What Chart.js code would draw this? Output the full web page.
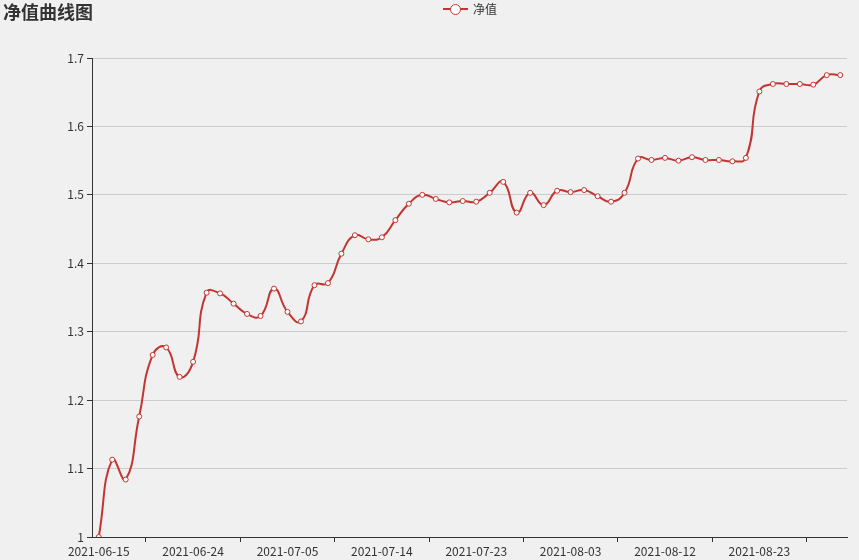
<!DOCTYPE html>
<html>
<head>
<meta charset="utf-8">
<title>净值曲线图</title>
<script src="https://cdn.jsdelivr.net/npm/chart.js@4"></script>
<style>
  html, body { margin: 0; padding: 0; background: #f0f0f0; }
  #wrap { position: relative; width: 859px; height: 560px; }
  #title {
    position: absolute; left: 3px; top: -2px;
    font: bold 18px "Noto Sans CJK SC", sans-serif; color: #333;
  }
  #legend {
    position: absolute; left: 443px; top: 0px; height: 17px;
    font: 12px "Noto Sans CJK SC", sans-serif; color: #333;
    display: flex; align-items: center;
  }
  #legend .icon { position: relative; width: 25px; height: 14px; margin-right: 5px; }
  #legend .icon .ln { position: absolute; left: 0; top: 6px; width: 25px; height: 2px; background: #c23531; }
  #legend .icon .dot {
    position: absolute; left: 7px; top: 2px; width: 9px; height: 9px; border-radius: 50%;
    background: #fff; border: 1px solid #c23531;
  }
  canvas { position: absolute; left: 0; top: 0; }
</style>
</head>
<body>
<div id="wrap">
  <canvas id="nav-chart" width="859" height="560"></canvas>
  <div id="title">净值曲线图</div>
  <div id="legend"><span class="icon"><span class="ln"></span><span class="dot"></span></span>净值</div>
</div>
<script>
// 交易日
const dates = [
  "2021-06-15", "2021-06-16", "2021-06-17", "2021-06-18", "2021-06-21", "2021-06-22", "2021-06-23",
  "2021-06-24", "2021-06-25", "2021-06-28", "2021-06-29", "2021-06-30", "2021-07-01", "2021-07-02",
  "2021-07-05", "2021-07-06", "2021-07-07", "2021-07-08", "2021-07-09", "2021-07-12", "2021-07-13",
  "2021-07-14", "2021-07-15", "2021-07-16", "2021-07-19", "2021-07-20", "2021-07-21", "2021-07-22",
  "2021-07-23", "2021-07-26", "2021-07-27", "2021-07-28", "2021-07-29", "2021-07-30", "2021-08-02",
  "2021-08-03", "2021-08-04", "2021-08-05", "2021-08-06", "2021-08-09", "2021-08-10", "2021-08-11",
  "2021-08-12", "2021-08-13", "2021-08-16", "2021-08-17", "2021-08-18", "2021-08-19", "2021-08-20",
  "2021-08-23", "2021-08-24", "2021-08-25", "2021-08-26", "2021-08-27", "2021-08-30", "2021-08-31"
];

// 净值
const navValues = [
  1.000, 1.113, 1.084, 1.176, 1.266, 1.277, 1.234, 1.256, 1.357, 1.356,
  1.341, 1.326, 1.323, 1.363, 1.329, 1.315, 1.368, 1.371, 1.414, 1.441,
  1.435, 1.438, 1.463, 1.487, 1.500, 1.494, 1.489, 1.491, 1.490, 1.503,
  1.519, 1.474, 1.503, 1.485, 1.506, 1.504, 1.507, 1.498, 1.490, 1.503,
  1.553, 1.551, 1.554, 1.550, 1.555, 1.551, 1.551, 1.549, 1.554, 1.651,
  1.662, 1.662, 1.662, 1.661, 1.675, 1.675
];

const yMin = 1;
const yMax = 1.7;
const yStep = 0.1;
const labelEvery = 7;

const lineColor = "#c23531";
const fontFamily = '"Noto Sans CJK SC", "Noto Sans", sans-serif';

const ctx = document.getElementById("nav-chart").getContext("2d");

new Chart(ctx, {
  type: "line",
  data: {
    labels: dates,
    datasets: [
      {
        label: "净值",
        data: navValues,
        borderColor: lineColor,
        borderWidth: 2,
        backgroundColor: "#fff",
        pointBackgroundColor: "#fff",
        pointBorderColor: lineColor,
        pointBorderWidth: 1,
        pointRadius: 2.5,
        tension: 0.5,
        fill: false,
      },
    ],
  },
  options: {
    responsive: false,
    animation: false,
    layout: { padding: { top: 58, right: 12, left: 0, bottom: 0 } },
    plugins: {
      legend: { display: false },
      title: { display: false },
      tooltip: { enabled: false },
    },
    scales: {
      x: {
        offset: true,
        grid: {
          offset: true,
          drawOnChartArea: false,
          drawTicks: true,
          tickLength: 5,
          tickColor: (c) => (c.index % labelEvery === 4 ? "#333" : "rgba(0,0,0,0)"),
        },
        border: { display: true, color: "#333", width: 1 },
        ticks: {
          autoSkip: false,
          maxRotation: 0,
          padding: 2,
          color: "#333",
          font: { family: fontFamily, size: 12 },
          callback: function (val, index) {
            return index % labelEvery === 0 ? dates[index] : "";
          },
        },
        afterFit: (scale) => { scale.height = 23; },
      },
      y: {
        min: yMin,
        max: yMax,
        grid: {
          color: "#ccc",
          tickColor: "#333",
          tickLength: 5,
        },
        border: { display: true, color: "#333", width: 1 },
        ticks: {
          stepSize: yStep,
          padding: 3,
          color: "#333",
          font: { family: fontFamily, size: 12 },
          callback: (val) => String(Number(val.toFixed(1))),
        },
        afterFit: (scale) => { scale.width = 92; },
      },
    },
  },
});
</script>
</body>
</html>
